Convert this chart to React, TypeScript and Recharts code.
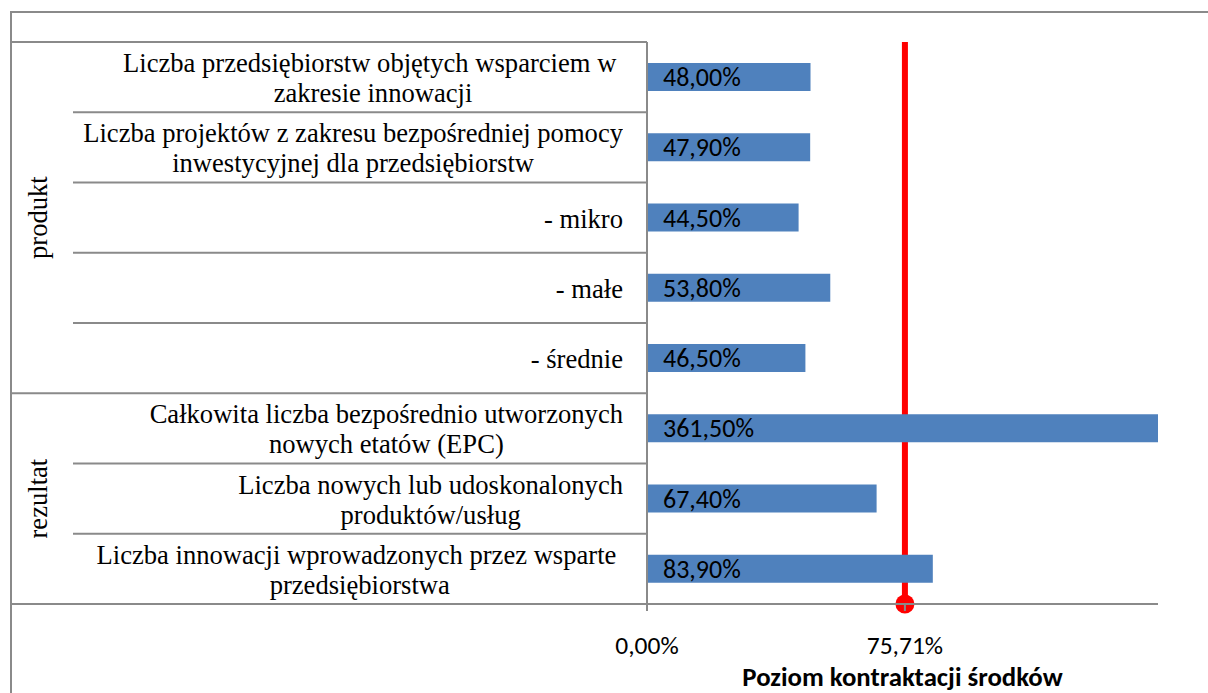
import React from "react";
import { BarChart, Bar, XAxis, YAxis, ReferenceLine, LabelList } from "recharts";

const categories = [
  "Liczba przedsiębiorstw objętych wsparciem w \nzakresie innowacji",
  "Liczba projektów z zakresu bezpośredniej pomocy\ninwestycyjnej dla przedsiębiorstw",
  "- mikro",
  "- małe",
  "- średnie",
  "Całkowita liczba bezpośrednio utworzonych\nnowych etatów (EPC)",
  "Liczba nowych lub udoskonalonych\nproduktów/usług",
  "Liczba innowacji wprowadzonych przez wsparte \nprzedsiębiorstwa",
];
const values = [48.0, 47.9, 44.5, 53.8, 46.5, 361.5, 67.4, 83.9];
const groupNames = ["produkt", "rezultat"];
const groupSizes = [5, 3];
const target = 75.71;
const xTicks = [0, target];

const data = categories.map((name, i) => ({ name, value: values[i] }));

const W = 1208;
const H = 693;
const TOP = 42;
const XAXIS_H = 89;
const PLOT_H = H - TOP - XAXIS_H;
const YAXIS_W = 647;
const GRID = "#8a8a8a";
const SERIF = '"Times New Roman", "Liberation Serif", serif';
const SANS = 'Calibri, Carlito, Lato, sans-serif';

// last row and middle row of every group
const groupEnds: number[] = [];
const groupMids: Record<number, string> = {};
let acc = 0;
groupSizes.forEach((s, g) => {
  groupMids[acc + Math.floor(s / 2)] = groupNames[g];
  acc += s;
  groupEnds.push(acc - 1);
});

const pct = (v: number) => v.toFixed(2).replace(".", ",") + "%";

const CategoryTick = (props: any) => {
  const { y, payload, index } = props;
  const rowH = PLOT_H / categories.length;
  const top = y - rowH / 2;
  const bottom = y + rowH / 2;
  const isEnd = groupEnds.includes(index);
  return (
    <g>
      {index === 0 && (
        <line x1={11} x2={YAXIS_W} y1={top} y2={top} stroke={GRID} strokeWidth={2} />
      )}
      <line x1={isEnd ? 11 : 73} x2={YAXIS_W} y1={bottom} y2={bottom} stroke={GRID} strokeWidth={2} />
      <foreignObject x={60} y={top + 1} width={563} height={rowH}>
        <div
          style={{
            width: "100%",
            height: "100%",
            display: "flex",
            alignItems: "center",
            justifyContent: "flex-end",
          }}
        >
          <div
            style={{
              textAlign: "center",
              whiteSpace: "pre",
              fontFamily: SERIF,
              fontSize: 26.6,
              lineHeight: "30px",
              color: "#000",
            }}
          >
            {payload.value}
          </div>
        </div>
      </foreignObject>
      {groupMids[index] && (
        <text
          x={38}
          y={y}
          transform={`rotate(-90 38 ${y})`}
          textAnchor="middle"
          dominantBaseline="central"
          fontFamily={SERIF}
          fontSize={26.6}
          fill="#000"
        >
          {groupMids[index]}
        </text>
      )}
    </g>
  );
};

const TargetLine = (p: any) => {
  const yTop = Math.min(p.y1, p.y2);
  const yBottom = Math.max(p.y1, p.y2);
  return (
    <g>
      <line x1={p.x1} x2={p.x2} y1={yTop} y2={yBottom} stroke="#FF0000" strokeWidth={6} />
      <circle cx={p.x1} cy={yBottom} r={9.5} fill="#FF0000" />
    </g>
  );
};

const AxisTitle = (props: any) => {
  const vb = props.viewBox;
  return (
    <text
      x={vb.x + vb.width / 2}
      y={vb.y + 82}
      textAnchor="middle"
      fill="#000"
      fontSize={26.8}
      fontWeight="bold"
      fontFamily={SANS}
    >
      Poziom kontraktacji środków
    </text>
  );
};

export default function App() {
  return (
    <div
      style={{
        position: "fixed",
        left: 0,
        top: 0,
        width: W,
        height: H,
        overflow: "hidden",
        background: "#fff",
      }}
    >
      <div
        style={{
          position: "absolute",
          left: 10,
          top: -17,
          fontFamily: SERIF,
          fontWeight: "bold",
          fontSize: 20,
          lineHeight: "20px",
        }}
      >
        Działanie 1.5
      </div>
      <div
        style={{
          position: "absolute",
          left: 10,
          top: 11,
          width: 2000,
          height: 2000,
          borderTop: `2px solid ${GRID}`,
          borderLeft: `2px solid ${GRID}`,
        }}
      />
      <div style={{ position: "absolute", left: 0, top: 0 }}>
        <BarChart
          width={W}
          height={H}
          data={data}
          layout="vertical"
          margin={{ top: TOP, right: 50, left: 0, bottom: 0 }}
          barSize={28}
        >
          <XAxis
            type="number"
            domain={[0, 150]}
            allowDataOverflow
            ticks={xTicks}
            tickFormatter={pct}
            height={XAXIS_H}
            tickSize={7}
            tickMargin={25}
            axisLine={{ stroke: GRID, strokeWidth: 2 }}
            tickLine={{ stroke: GRID, strokeWidth: 2 }}
            tick={{ fill: "#000", fontSize: 25.5, fontFamily: SANS }}
            label={<AxisTitle />}
          />
          <YAxis
            type="category"
            dataKey="name"
            width={YAXIS_W}
            axisLine={{ stroke: GRID, strokeWidth: 2 }}
            tickLine={false}
            tick={<CategoryTick />}
            interval={0}
          />
          <ReferenceLine x={target} zIndex={250} shape={<TargetLine />} />
          <Bar dataKey="value" fill="#4F81BD" isAnimationActive={false}>
            <LabelList
              dataKey="value"
              position="insideLeft"
              offset={16}
              formatter={pct}
              fill="#000"
              fontSize={26}
              fontFamily={SANS}
            />
          </Bar>
        </BarChart>
      </div>
    </div>
  );
}
